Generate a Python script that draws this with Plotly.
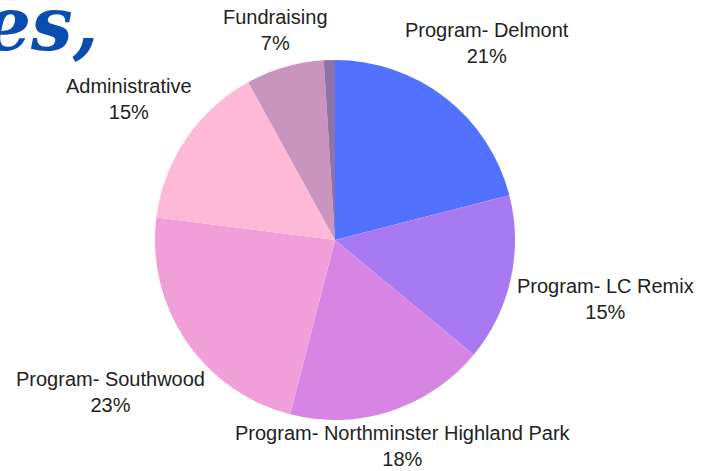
import plotly.graph_objects as go

labels = ["Program- Delmont", "Program- LC Remix", "Program- Northminster Highland Park",
          "Program- Southwood", "Administrative", "Fundraising", "Other"]
values = [21, 15, 18, 23, 15, 7, 1]
colors = ["#5271FF", "#A77AF1", "#D785E3", "#F09FD8", "#FEB9D6", "#C994BE", "#8F73A8"]
show_label = [True, True, True, True, True, True, False]

# label block centres (pixels from top-left), layout only
label_pos = [(487, 43), (605, 299), (403, 446), (110, 392), (129, 99), (275, 30), None]

W, H = 711, 471
cx, cy, r = 335, 240, 180

fig = go.Figure(go.Pie(
    labels=labels,
    values=values,
    textinfo="none",
    sort=False,
    direction="clockwise",
    rotation=0,
    marker=dict(colors=colors, line=dict(width=0)),
    domain=dict(x=[(cx - r) / W, (cx + r) / W], y=[(H - cy - r) / H, (H - cy + r) / H]),
    showlegend=False,
    hoverinfo="label+percent",
))

total = sum(values)
for lab, v, show, pos in zip(labels, values, show_label, label_pos):
    if not show:
        continue
    pct = round(100 * v / total)
    fig.add_annotation(
        text=f"{lab}<br>{pct}%", xref="paper", yref="paper",
        x=pos[0] / W, y=1 - pos[1] / H, xanchor="center", yanchor="middle",
        showarrow=False, align="center",
        font=dict(family="Liberation Sans, Arial, sans-serif", size=20, color="#222222"),
    )

fig.add_annotation(
    text="<b><i>es,</i></b>", xref="paper", yref="paper", x=-0.025, y=1.045,
    xanchor="left", yanchor="top", showarrow=False,
    font=dict(family="DejaVu Serif", size=74, color="#0A4DB0"),
)

fig.update_layout(
    width=W, height=H,
    margin=dict(l=0, r=0, t=0, b=0, autoexpand=False),
    paper_bgcolor="white", plot_bgcolor="white",
)

fig.write_html("out.html", config={"displayModeBar": False},
               post_script="document.body.style.margin='0';document.body.style.overflow='hidden';")
